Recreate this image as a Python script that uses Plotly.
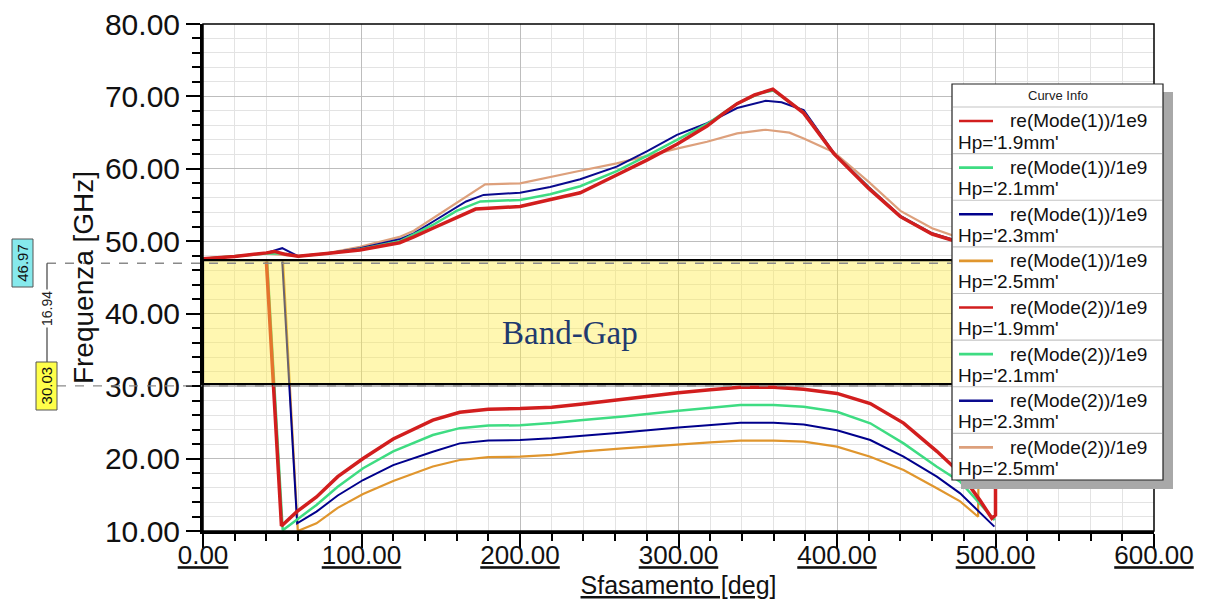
import plotly.graph_objects as go

# ---------------- data ----------------
hp_values = ["1.9mm", "2.1mm", "2.3mm", "2.5mm"]
mode_labels = ["re(Mode(1))/1e9", "re(Mode(2))/1e9"]

mode1_colors = ["#D21E1E", "#3EDC82", "#00008C", "#E0962E"]
mode2_colors = ["#D21E1E", "#3EDC82", "#0A0A8E", "#DDA07C"]
line_widths = [3.5, 2.5, 2.0, 2.2]

# Mode 1 (lower branch)
m1_19_x = [40, 49.5, 59.4, 71.6, 85, 101, 120, 145, 162, 180, 200, 220, 238, 265, 300, 320, 339, 360, 379, 400, 421, 442, 463, 477.7, 490, 497.7, 500, 500]
m1_19_y = [47.2, 10.7, 12.7, 14.7, 17.5, 20.0, 22.7, 25.3, 26.4, 26.8, 26.9, 27.1, 27.5, 28.2, 29.1, 29.5, 29.84, 29.85, 29.56, 29.0, 27.6, 24.9, 21.0, 18.0, 14.3, 11.75, 12.2, 47.0]

m1_21_x = [40.5, 50.3, 59.4, 71.6, 85, 101, 120, 145, 162, 180, 200, 220, 238, 265, 300, 320, 339, 360, 379, 400, 421, 442, 463, 477.7, 490.3, 499.5]
m1_21_y = [47.2, 10.1, 11.6, 13.6, 16.1, 18.66, 21.0, 23.25, 24.2, 24.55, 24.6, 24.9, 25.3, 25.8, 26.6, 27.0, 27.4, 27.4, 27.16, 26.47, 24.87, 22.1, 18.88, 16.8, 13.8, 11.5]

m1_23_x = [50, 59.4, 71.6, 85, 101, 120, 145, 162, 180, 200, 220, 238, 265, 300, 320, 339, 360, 379, 400, 421, 442, 463, 477.7, 490.3, 499.3]
m1_23_y = [47.2, 11.06, 12.67, 14.9, 17.04, 19.1, 20.95, 22.1, 22.5, 22.56, 22.8, 23.1, 23.6, 24.3, 24.6, 24.95, 24.95, 24.7, 23.9, 22.56, 20.26, 17.5, 15.2, 12.5, 10.6]

m1_25_x = [50.5, 59.8, 71.6, 85, 101, 120, 145, 162, 180, 200, 220, 238, 265, 300, 320, 339, 360, 379, 400, 421, 442, 463, 477.7, 489, 490.8]
m1_25_y = [47.2, 10.0, 11.06, 13.2, 15.1, 16.9, 18.9, 19.8, 20.2, 20.26, 20.5, 20.95, 21.4, 22.0, 22.25, 22.47, 22.47, 22.33, 21.64, 20.26, 18.42, 15.9, 14.1, 11.97, 47.0]

# Mode 2 (upper branch)
m2_19_x = [0, 20, 40, 45, 52, 60, 78, 99, 124, 133, 145, 160, 172, 200, 219, 238, 261, 280, 299, 318, 328, 337, 348, 359.5, 379, 398, 420, 440, 460, 475, 500]
m2_19_y = [47.6, 47.9, 48.4, 48.6, 48.2, 47.95, 48.3, 48.8, 49.8, 50.6, 51.8, 53.3, 54.45, 54.8, 55.8, 56.7, 59.15, 61.2, 63.4, 65.9, 67.6, 69.0, 70.2, 71.0, 67.7, 62.1, 57.3, 53.4, 51.0, 50.0, 48.8]

m2_21_x = [0, 20, 40, 50, 60, 78, 99, 124, 145, 160, 175, 200, 219, 238, 261, 280, 299, 318, 337, 352, 360, 379, 398, 420, 440, 460, 475, 500]
m2_21_y = [47.6, 47.9, 48.3, 48.3, 47.95, 48.3, 48.9, 50.0, 52.25, 54.2, 55.5, 55.7, 56.5, 57.6, 59.7, 61.8, 64.0, 66.2, 69.0, 70.5, 70.8, 67.8, 62.1, 57.4, 53.4, 51.0, 50.0, 48.8]

m2_23_x = [0, 20, 40, 46, 50, 54, 60, 78, 99, 124, 133, 145, 166, 177, 200, 219, 238, 261, 280, 299, 318, 337, 355, 365, 379, 398, 420, 440, 460, 475, 500]
m2_23_y = [47.6, 47.9, 48.4, 48.8, 49.05, 48.6, 47.95, 48.3, 49.03, 50.27, 51.1, 52.7, 55.5, 56.4, 56.7, 57.5, 58.56, 60.3, 62.4, 64.7, 66.3, 68.4, 69.4, 69.2, 68.1, 62.2, 57.5, 53.5, 51.1, 50.1, 48.9]

m2_25_x = [0, 20, 40, 60, 78, 99, 124, 133, 145, 166, 178, 200, 219, 238, 261, 280, 299, 318, 337, 355, 370, 379, 398, 420, 440, 460, 475, 490]
m2_25_y = [47.6, 47.9, 48.3, 47.95, 48.35, 49.25, 50.6, 51.46, 53.2, 56.15, 57.87, 58.0, 58.9, 59.74, 60.76, 61.8, 62.8, 63.75, 64.9, 65.4, 65.0, 64.2, 62.3, 58.2, 54.2, 51.8, 50.6, 49.5]

mode1_x = [m1_19_x, m1_21_x, m1_23_x, m1_25_x]
mode1_y = [m1_19_y, m1_21_y, m1_23_y, m1_25_y]
mode2_x = [m2_19_x, m2_21_x, m2_23_x, m2_25_x]
mode2_y = [m2_19_y, m2_21_y, m2_23_y, m2_25_y]

band_top = 46.97
band_bottom = 30.03
band_x_end = 473
band_label = "Band-Gap"

x_ticks = [0, 100, 200, 300, 400, 500, 600]
y_ticks = [10, 20, 30, 40, 50, 60, 70, 80]

# ---------------- geometry helpers ----------------
W_FIG, H_FIG = 1205, 599
ML, MR, MT, MB = 203, 51, 24, 68
PW = W_FIG - ML - MR
PH = H_FIG - MT - MB


def px(xp):
    return (xp - ML) / PW


def py(yp):
    return (H_FIG - MB - yp) / PH


fig = go.Figure()

# upper branch (Mode 2) then lower branch (Mode 1); red drawn last
for order in [3, 2, 1, 0]:
    fig.add_trace(go.Scatter(
        x=mode2_x[order], y=mode2_y[order], mode="lines",
        line=dict(color=mode2_colors[order], width=line_widths[order]),
        name=f"{mode_labels[1]} Hp='{hp_values[order]}'", showlegend=False))
for order in [3, 2, 1, 0]:
    fig.add_trace(go.Scatter(
        x=mode1_x[order], y=mode1_y[order], mode="lines",
        line=dict(color=mode1_colors[order], width=line_widths[order]),
        name=f"{mode_labels[0]} Hp='{hp_values[order]}'", showlegend=False))

shapes = []
annotations = []
SMALL_FONT = "Liberation Sans, Arial"

# band-gap overlay (semi-transparent, above curves)
shapes.append(dict(type="rect", xref="x", yref="y", x0=0, x1=band_x_end,
                   y0=band_bottom + 0.25, y1=band_top + 0.42,
                   fillcolor="rgba(255,236,70,0.42)",
                   line=dict(color="black", width=2.2), layer="above"))
# dashed marker lines
shapes.append(dict(type="line", xref="paper", yref="y", x0=px(47), x1=px(953),
                   y0=band_top, y1=band_top,
                   line=dict(color="#8A8A8A", width=1.3, dash="dash"), layer="above"))
shapes.append(dict(type="line", xref="paper", yref="y", x0=px(57), x1=px(953),
                   y0=band_bottom, y1=band_bottom,
                   line=dict(color="#8A8A8A", width=1.3, dash="dash"), layer="above"))
# vertical delta line
shapes.append(dict(type="line", xref="paper", yref="y", x0=px(47), x1=px(47),
                   y0=band_top, y1=band_bottom + 3.2,
                   line=dict(color="#404040", width=1.2), layer="above"))
# value boxes
shapes.append(dict(type="rect", xref="paper", yref="paper", x0=px(12), x1=px(33),
                   y0=py(287), y1=py(239), fillcolor="#86E9EC",
                   line=dict(color="#555555", width=1), layer="above"))
shapes.append(dict(type="rect", xref="paper", yref="paper", x0=px(36), x1=px(57),
                   y0=py(410), y1=py(362), fillcolor="#FFFF4A",
                   line=dict(color="#555555", width=1), layer="above"))
annotations.append(dict(xref="paper", yref="y", x=px(22.5), y=band_top,
                        xanchor="center", yanchor="middle",
                        text=f"{band_top:.2f}", textangle=-90, showarrow=False,
                        font=dict(size=15, color="#111", family=SMALL_FONT)))
annotations.append(dict(xref="paper", yref="y", x=px(46.5), y=band_bottom,
                        xanchor="center", yanchor="middle",
                        text=f"{band_bottom:.2f}", textangle=-90, showarrow=False,
                        font=dict(size=15, color="#111", family=SMALL_FONT)))
annotations.append(dict(xref="paper", yref="paper", x=px(47), y=py(309),
                        xanchor="center", yanchor="middle",
                        text=f"{band_top - band_bottom:.2f}", textangle=-90, showarrow=False,
                        bgcolor="white", borderpad=1,
                        font=dict(size=14, color="#222", family=SMALL_FONT)))
# band label
annotations.append(dict(xref="paper", yref="paper", x=px(570), y=py(333),
                        xanchor="center", yanchor="middle",
                        text=band_label, showarrow=False,
                        font=dict(size=33, color="#1F3A6E",
                                  family="Liberation Serif, DejaVu Serif, serif")))

# plot frame (top / right thin border)
shapes.append(dict(type="rect", xref="paper", yref="paper", x0=0, x1=1, y0=0, y1=1,
                   line=dict(color="black", width=1.5), layer="above"))

# ---------------- custom legend ("Curve Info") ----------------
LX0, LX1, LY0, LY1 = 952, 1163, 84, 480
shapes.append(dict(type="rect", xref="paper", yref="paper",
                   x0=px(LX0 + 9), x1=px(LX1 + 10), y0=py(LY1 + 9), y1=py(LY0 + 8),
                   fillcolor="#A8A8A8", line=dict(width=0), layer="above"))
shapes.append(dict(type="rect", xref="paper", yref="paper",
                   x0=px(LX0), x1=px(LX1), y0=py(LY1), y1=py(LY0),
                   fillcolor="white", line=dict(color="#222222", width=1.2), layer="above"))
annotations.append(dict(xref="paper", yref="paper", x=px((LX0 + LX1) / 2), y=py(95.5),
                        xanchor="center", yanchor="middle",
                        text="Curve Info", showarrow=False,
                        font=dict(size=13, color="#222", family=SMALL_FONT)))
header_bottom = 107
row_h = (LY1 - header_bottom) / 8
shapes.append(dict(type="line", xref="paper", yref="paper", x0=px(LX0 + 1), x1=px(LX1 - 1),
                   y0=py(header_bottom), y1=py(header_bottom),
                   line=dict(color="#C4C4C4", width=1.2), layer="above"))
entries = [(mode_labels[0], hp_values[i], mode1_colors[i]) for i in range(4)] + \
          [(mode_labels[1], hp_values[i], mode2_colors[i]) for i in range(4)]
for i, (lab, hp, col) in enumerate(entries):
    top = header_bottom + row_h * i
    if i < 7:
        shapes.append(dict(type="line", xref="paper", yref="paper", x0=px(LX0 + 1), x1=px(LX1 - 1),
                           y0=py(top + row_h), y1=py(top + row_h),
                           line=dict(color="#C4C4C4", width=1.2), layer="above"))
    shapes.append(dict(type="line", xref="paper", yref="paper", x0=px(959), x1=px(993),
                       y0=py(top + 14), y1=py(top + 14),
                       line=dict(color=col, width=2.6), layer="above"))
    annotations.append(dict(xref="paper", yref="paper", x=px(1008), y=py(top + 14),
                            xanchor="left", yanchor="middle", text=lab, showarrow=False,
                            font=dict(size=19, color="#111", family=SMALL_FONT)))
    annotations.append(dict(xref="paper", yref="paper", x=px(956), y=py(top + 35),
                            xanchor="left", yanchor="middle", text=f"Hp='{hp}'", showarrow=False,
                            font=dict(size=19, color="#111", family=SMALL_FONT)))

fig.update_layout(
    width=W_FIG, height=H_FIG,
    margin=dict(l=ML, r=MR, t=MT, b=MB),
    paper_bgcolor="white", plot_bgcolor="white",
    showlegend=False,
    font=dict(family="Liberation Sans, Arial, sans-serif", color="#111"),
    shapes=shapes, annotations=annotations,
    xaxis=dict(
        range=[0, 600], tickmode="array", tickvals=x_ticks,
        ticktext=[f"<u>{v:.2f}</u>" for v in x_ticks],
        ticks="outside", ticklen=14, tickwidth=2.2, tickcolor="black",
        ticklabelstandoff=-15,
        showline=True, linecolor="black", linewidth=3,
        showgrid=True, gridcolor="#BDBDBD", gridwidth=1, zeroline=False,
        minor=dict(tickmode="linear", tick0=0, dtick=20, ticks="outside", ticklen=7,
                   tickwidth=2, tickcolor="black", showgrid=True,
                   gridcolor="#E3E3E3", gridwidth=1),
        tickfont=dict(size=26, color="#111"),
        title=dict(text="<u>Sfasamento [deg]</u>", font=dict(size=25, color="#111"), standoff=16),
        automargin=False,
    ),
    yaxis=dict(
        range=[10, 80], tickmode="array", tickvals=y_ticks,
        ticktext=[f"{v:.2f}" for v in y_ticks],
        ticks="outside", ticklen=14, tickwidth=2.2, tickcolor="black",
        showline=True, linecolor="black", linewidth=3,
        showgrid=True, gridcolor="#BDBDBD", gridwidth=1, zeroline=False,
        minor=dict(tickmode="linear", tick0=10, dtick=2, ticks="outside", ticklen=8,
                   tickwidth=2, tickcolor="black", showgrid=True,
                   gridcolor="#E3E3E3", gridwidth=1),
        tickfont=dict(size=30, color="#111"),
        title=dict(text="Frequenza [GHz]", font=dict(size=28, color="#111"), standoff=4),
        automargin=False,
    ),
)

fig.write_html("out.html")
